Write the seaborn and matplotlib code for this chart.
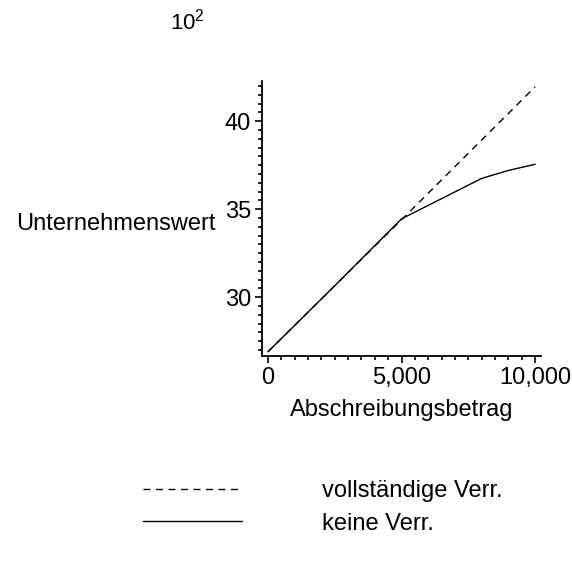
import seaborn as sns
import matplotlib.pyplot as plt
import matplotlib.ticker as mticker
import pandas as pd

# ---- Data (values in units of 10^2) ----
series_names = ["vollständige Verr.", "keine Verr."]
x_full = [0, 5000, 10000]
y_full = [26.9, 34.4, 41.95]
x_none = [0, 2500, 5000, 6500, 8000, 9000, 10000]
y_none = [26.9, 30.65, 34.45, 35.6, 36.75, 37.2, 37.55]
x_ticks = [0, 5000, 10000]
x_tick_labels = ["0", "5,000", "10,000"]
y_ticks = [30, 35, 40]
y_tick_labels = ["30", "35", "40"]

df = pd.concat([
    pd.DataFrame({"Abschreibungsbetrag": x_full, "Unternehmenswert": y_full, "Verr": series_names[0]}),
    pd.DataFrame({"Abschreibungsbetrag": x_none, "Unternehmenswert": y_none, "Verr": series_names[1]}),
])

# ---- Visualization ----
sns.set_style("ticks", {"text.color": "black", "axes.labelcolor": "black",
                        "xtick.color": "black", "ytick.color": "black",
                        "axes.edgecolor": "black"})
plt.rcParams["font.family"] = ["Liberation Sans", "DejaVu Sans"]
plt.rcParams["font.size"] = 17

fig = plt.figure(figsize=(5.72, 5.68), dpi=100)
ax = fig.add_axes([0.458, 0.373, 0.488, 0.484])

sns.lineplot(data=df, x="Abschreibungsbetrag", y="Unternehmenswert", style="Verr",
             style_order=series_names, dashes={series_names[0]: (5, 4), series_names[1]: ""},
             color="black", linewidth=1, ax=ax, legend=True)

ax.set_xlim(-225, 10225)
ax.set_ylim(26.65, 42.27)
ax.set_xticks(x_ticks)
ax.set_xticklabels(x_tick_labels)
ax.set_yticks(y_ticks)
ax.set_yticklabels(y_tick_labels)
ax.xaxis.set_minor_locator(mticker.MultipleLocator(500))
ax.yaxis.set_minor_locator(mticker.MultipleLocator(0.5))
ax.tick_params(which="major", length=5, width=1.2, labelsize=17, pad=3)
ax.tick_params(which="minor", length=3, width=1.2)
sns.despine(ax=ax)
for s in ["left", "bottom"]:
    ax.spines[s].set_linewidth(1.3)

ax.set_xlabel("Abschreibungsbetrag", fontsize=17, labelpad=7)
ax.set_ylabel("Unternehmenswert", fontsize=17, rotation=0, ha="right", va="center")
ax.yaxis.set_label_coords(-0.165, 0.48)

fig.text(0.327, 0.962, r"$\mathregular{10^2}$", fontsize=16, ha="center", va="center")

handles, labels = ax.get_legend_handles_labels()
ax.get_legend().remove()
fig.legend(handles, labels, loc="upper left", bbox_to_anchor=(0.25, 0.155), frameon=False,
           borderpad=0, borderaxespad=0, handlelength=4.2, handletextpad=3.4,
           labelspacing=0.45, fontsize=17)

# ---- Save output ----
fig.savefig("out.png", dpi=100)
plt.close()
